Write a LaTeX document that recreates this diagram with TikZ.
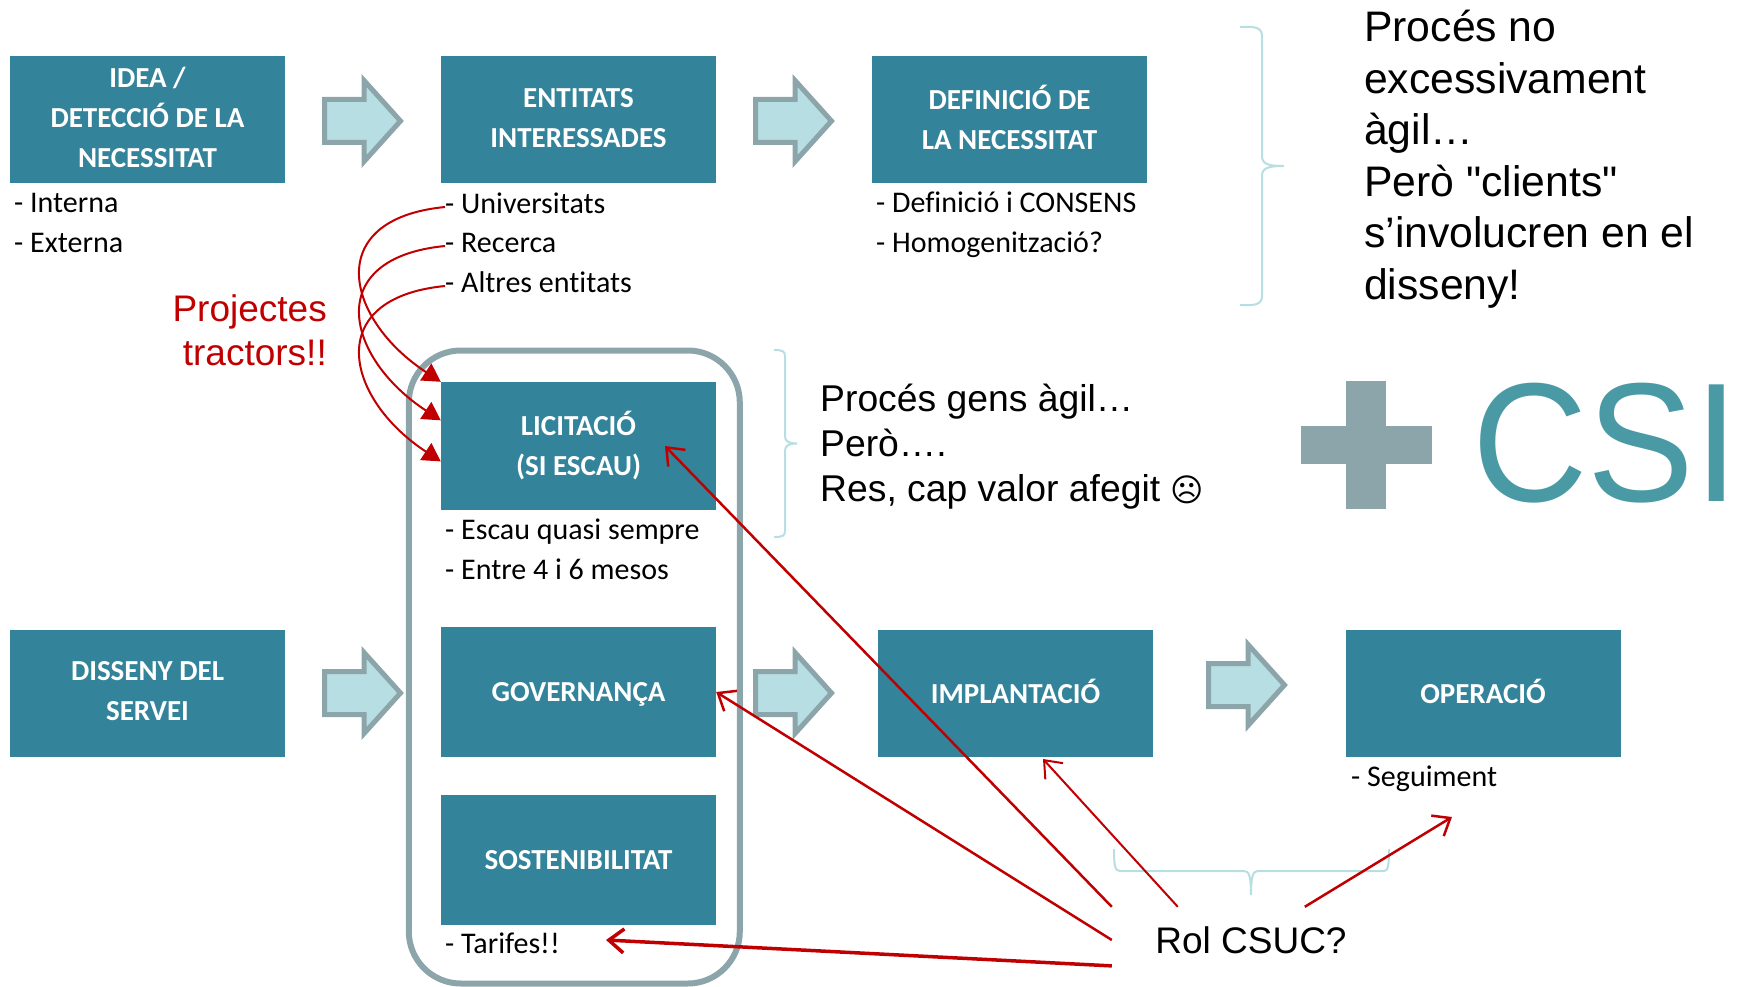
\documentclass[tikz,border=0pt]{standalone}
\usepackage{fontspec}
\setmainfont{Carlito}[Ligatures=NoCommon]
\newfontfamily\arialfont{Liberation Sans}
\newfontfamily\symbfont{DejaVu Sans}
\usetikzlibrary{positioning,arrows.meta,shapes.arrows,calc}
\definecolor{boxblue}{HTML}{33849B}
\definecolor{framegrey}{HTML}{8CA5AA}
\definecolor{palecyan}{HTML}{B7DEE2}
\definecolor{tealtext}{HTML}{4A9AA5}
\definecolor{darkred}{HTML}{C00000}

\begin{document}
\begin{tikzpicture}[x=1pt,y=-1pt,
  stage/.style={fill=boxblue, text=white, minimum width=275pt, minimum height=127pt,
                inner sep=0pt, align=center, font=\fontsize{29}{40}\selectfont\bfseries,
                execute at begin node=\vphantom{Ó}, execute at end node=\vphantom{Ç}},
  blockarr/.style={single arrow, draw=framegrey, fill=palecyan, line width=5pt,
                   minimum height=76pt, minimum width=76pt, inner sep=19pt,
                   single arrow head extend=19pt, single arrow tip angle=96,
                   anchor=tail},
  item/.style={anchor=west, inner sep=0pt, text height=19pt, text depth=6pt,
               font=\fontsize{30}{40}\selectfont},
  talk/.style={inner sep=0pt, align=left, font=\arialfont\fontsize{42.7}{51.5}\selectfont},
  smalltalk/.style={talk, font=\arialfont\fontsize{37.3}{45}\selectfont},
  curve/.style={-{Triangle[length=18pt,width=20pt]}, darkred, line width=2pt},
  rolarr/.style={-{Straight Barb[length=15pt,width=24pt]}, darkred, line width=#1},
  brace/.style={palecyan, line width=2pt}
]
  \useasboundingbox (0,0) rectangle (1738,987);

  % Frame round the middle column
  \node[draw=framegrey, line width=6pt, rounded corners=52pt, minimum width=331pt,
        minimum height=633pt, inner sep=0pt] (frame) at (574.3,667) {};

  % Top row
  \node[stage] (idea)  at (147.5,120)
    {IDEA /\\DETECCIÓ DE LA\\NECESSITAT};
  \node[stage] (entitats) at (578.5,120)
    {ENTITATS\\INTERESSADES};
  \node[stage] (definicio) at (1009.5,120)
    {DEFINICIÓ DE\\LA NECESSITAT};

  % Middle column
  \node[stage, minimum height=128pt] (licit) at (578.5,446)
    {LICITACIÓ\\(SI ESCAU)};
  \node[stage, minimum height=130pt] (gov)   at (578.5,692)
    {GOVERNANÇA};
  \node[stage, minimum height=130pt] (sost)  at (578.5,860)
    {SOSTENIBILITAT};

  % Bottom row
  \node[stage] (disseny) at (147.5,693.5)
    {DISSENY DEL\\SERVEI};
  \node[stage] (implant) at (1015.5,693.5)
    {IMPLANTACIÓ};
  \node[stage] (operacio) at (1483,693.5)
    {OPERACIÓ};

  % Block arrows
  \node[blockarr] (arra) at (322,121) {};
  \node[blockarr] (arrb) at (753,121) {};
  \node[blockarr] (arrc) at (322,693) {};
  \node[blockarr] (arrd) at (753,693) {};
  \node[blockarr] (arre) at (1206,685) {};

  % Lists under the boxes
  \node[item] (interna) at (14,206) {- Interna};
  \node[item] (externa) at (14,246) {- Externa};
  \node[item] (univ)    at (445,207) {- Universitats};
  \node[item] (recerca) at (445,246) {- Recerca};
  \node[item] (altres)  at (445,286) {- Altres entitats};
  \node[item] (consens) at (876,206) {- Definició i CONSENS};
  \node[item] (homog)   at (876,246) {- Homogenització?};
  \node[item] (escau)   at (445,533) {- Escau quasi sempre};
  \node[item] (mesos)   at (445,573) {- Entre 4 i 6 mesos};
  \node[item] (tarifes) at (445,947) {- Tarifes!!};
  \node[item] (segui)   at (1351,780) {- Seguiment};

  % Big comments
  \node[talk, anchor=north west] (procesa) at (1364,10)
    {Procés no\\excessivament\\àgil…\\Però "clients"\\s’involucren en el\\disseny!};
  \node[smalltalk, anchor=west] (procesb) at (820,446.5)
    {Procés gens àgil…\\Però….\\Res, cap valor afegit {\symbfont\fontsize{32}{45}\selectfont ☹}};
  \node[talk, font=\arialfont\fontsize{37}{44}\selectfont, align=right, anchor=east,
        text=darkred] (tractors) at (327,330) {Projectes\\tractors!!};
  \node[talk, font=\arialfont\fontsize{37}{44}\selectfont, minimum width=278pt,
        minimum height=66pt, align=center] (rol) at (1251,940) {Rol CSUC?};

  % CSI sign
  \node[fill=framegrey, minimum width=40pt, minimum height=128pt, inner sep=0pt] (crossv) at (1366,445) {};
  \node[fill=framegrey, minimum width=131pt, minimum height=38pt, inner sep=0pt] (crossh) at (1366.5,445) {};
  \node[inner sep=0pt, anchor=base west, text=tealtext, yscale=1.06, transform shape,
        font=\arialfont\fontsize{160}{160}\selectfont] (csi) at (1472,501) {CSI};

  % Braces
  \draw[brace] (1240,27) .. controls (1256,26) and (1262,28) .. (1262,36)
    -- (1262,156) .. controls (1262,164) and (1268,166) .. (1284,166)
    .. controls (1268,166) and (1262,168) .. (1262,176)
    -- (1262,296) .. controls (1262,304) and (1256,306) .. (1240,305);
  \draw[brace] (774,350) .. controls (782,350) and (785,351) .. (785,356)
    -- (785,436) .. controls (785,441) and (788,443.5) .. (797,443.5)
    .. controls (788,443.5) and (785,446) .. (785,451)
    -- (785,531) .. controls (785,536) and (782,537) .. (774,537);
  \draw[brace] (1114,849) .. controls (1114,866) and (1115,871) .. (1120,871)
    -- (1244,871) .. controls (1249,871) and (1251,876) .. (1251,895)
    .. controls (1251,876) and (1253,871) .. (1258,871)
    -- (1384,871) .. controls (1388,871) and (1389,866) .. (1389,849);

  % Red curves to the tender
  \draw[curve] (univ.west) .. controls +(-123,12) and +(-96,-63) .. (licit.north west);
  \draw[curve] (recerca.west) .. controls +(-123,12) and +(-96,-63)
    .. ($(licit.north west)!0.3!(licit.south west)$);
  \draw[curve] (altres.west) .. controls +(-123,12) and +(-96,-63)
    .. ($(licit.north west)!0.62!(licit.south west)$);

  % Red arrows from the question
  \coordinate (licittip) at (665,446);
  \coordinate (implanttip) at (1043,759);
  \coordinate (seguitip) at (1452,817);
  \coordinate (tarifestip) at (606,940);
  \draw[rolarr=2.5pt] (rol.north west) -- (licittip);
  \draw[rolarr=2.5pt] (rol.west) -- (gov.east);
  \draw[rolarr=3.5pt] ($(rol.north west)!0.89!(rol.south west)$) -- (tarifestip);
  \draw[rolarr=2pt] ($(rol.north west)+(66,0)$) -- (implanttip);
  \draw[rolarr=2.5pt] ($(rol.north west)+(193,0)$) -- (seguitip);
\end{tikzpicture}
\end{document}
